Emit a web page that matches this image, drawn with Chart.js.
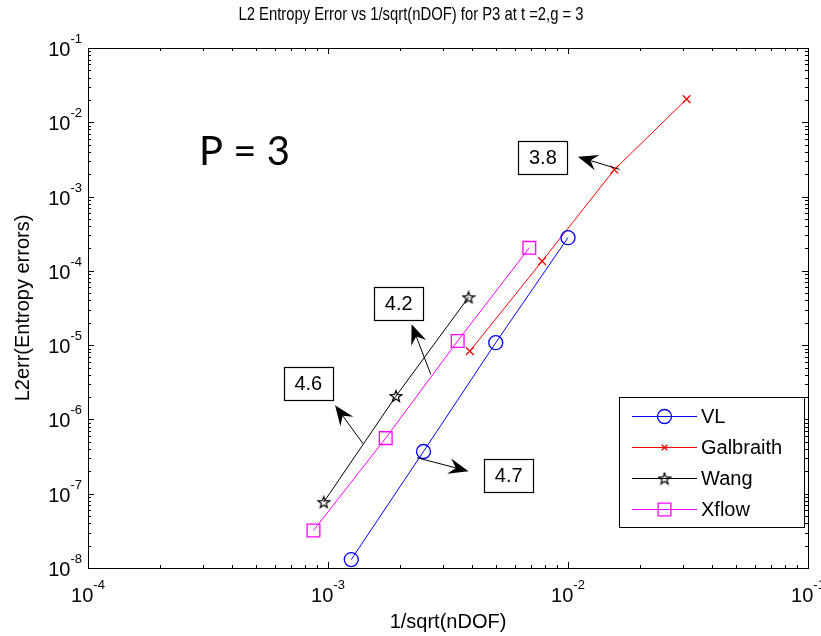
<!DOCTYPE html>
<html>
<head>
<meta charset="utf-8">
<script src="https://cdn.jsdelivr.net/npm/chart.js@4.4.0/dist/chart.umd.min.js"></script>
<style>
  body { margin: 0; background: #fff; }
  canvas { display: block; }
</style>
</head>
<body>
<canvas id="myChart" width="821" height="636"></canvas>
<script>
// values
var vlX = [1.25e-3, 2.5e-3, 5e-3, 1e-2];
var vlY = [1.3e-8, 3.7e-7, 1.08e-5, 2.8e-4];
var galX = [3.9e-3, 7.8e-3, 1.56e-2, 3.12e-2];
var galY = [8.3e-6, 1.35e-4, 2.3e-3, 2.05e-2];
var wangX = [9.6e-4, 1.92e-3, 3.85e-3];
var wangY = [7.7e-8, 2.06e-6, 4.4e-5];
var xflowX = [8.7e-4, 1.74e-3, 3.47e-3, 6.9e-3];
var xflowY = [3.2e-8, 5.6e-7, 1.14e-5, 2.04e-4];

var seriesNames = ['VL', 'Galbraith', 'Wang', 'Xflow'];
var xTickExp = [-4, -3, -2, -1];
var yTickExp = [-8, -7, -6, -5, -4, -3, -2, -1];

// slope labels: text, box centre, arrow tail, arrow head (data coords)
var slopeText = ['3.8', '4.2', '4.6', '4.7'];
var slopeBox = [[7.86e-3, 3.36e-3], [1.97e-3, 3.66e-5], [8.28e-4, 3.03e-6], [5.66e-3, 1.76e-7]];
var slopeTail = [[1.64e-2, 2.32e-3], [2.68e-3, 4.04e-6], [1.40e-3, 4.71e-7], [2.35e-3, 3.05e-7]];
var slopeHead = [[1.10e-2, 3.43e-3], [2.23e-3, 1.91e-5], [1.07e-3, 1.55e-6], [3.85e-3, 2.01e-7]];

var titleText = 'L2 Entropy Error vs 1/sqrt(nDOF) for P3 at t =2,g = 3';
var xTitle = '1/sqrt(nDOF)';
var yTitle = 'L2err(Entropy errors)';

var FONT = '"Liberation Sans", Arial, sans-serif';

function pts(xs, ys) {
    return xs.map(function(x, i) { return {x: x, y: ys[i]}; });
}

// pentagram marker like matlab 'p'
function makeStar(size, color) {
    var c = document.createElement('canvas');
    c.width = size; c.height = size;
    var g = c.getContext('2d');
    var cx = size / 2, cy = size / 2 + 0.5, R = size / 2 - 1, r = R * 0.42;
    g.beginPath();
    for (var i = 0; i < 10; i++) {
        var a = -Math.PI / 2 + i * Math.PI / 5;
        var rr = i % 2 === 0 ? R : r;
        var px = cx + rr * Math.cos(a), py = cy + rr * Math.sin(a);
        if (i === 0) g.moveTo(px, py); else g.lineTo(px, py);
    }
    g.closePath();
    g.strokeStyle = color;
    g.lineWidth = 1.2;
    g.stroke();
    return c;
}
var starImg = makeStar(14, '#000000');

function drawArrow(ctx, x1, y1, x2, y2) {
    var ang = Math.atan2(y2 - y1, x2 - x1);
    var L = 20, W = 8, notch = 13;
    ctx.strokeStyle = '#000';
    ctx.lineWidth = 1;
    ctx.beginPath();
    ctx.moveTo(x1, y1);
    ctx.lineTo(x2 - Math.cos(ang) * notch, y2 - Math.sin(ang) * notch);
    ctx.stroke();
    ctx.save();
    ctx.translate(x2, y2);
    ctx.rotate(ang);
    ctx.beginPath();
    ctx.moveTo(0, 0);
    ctx.lineTo(-L, -W);
    ctx.lineTo(-notch, 0);
    ctx.lineTo(-L, W);
    ctx.closePath();
    ctx.fillStyle = '#000';
    ctx.fill();
    ctx.restore();
}

var matlabLook = {
    id: 'matlabLook',
    afterDraw: function(chart) {
        var ctx = chart.ctx;
        var xs = chart.scales.x, ys = chart.scales.y;
        var a = chart.chartArea;
        ctx.save();

        // frame
        ctx.strokeStyle = '#000';
        ctx.lineWidth = 1;
        ctx.strokeRect(Math.round(a.left) + 0.5, Math.round(a.top) + 0.5,
                       Math.round(a.right - a.left), Math.round(a.bottom - a.top));

        // ticks, pointing inward, all four sides
        ctx.beginPath();
        for (var e = -4; e < -1 + 1e-9; e++) {
            for (var m = 1; m <= 9; m++) {
                var v = m * Math.pow(10, e);
                if (v > 0.1 * 1.0001) break;
                var px = Math.round(xs.getPixelForValue(v)) + 0.5;
                var len = m === 1 ? 6 : 3;
                ctx.moveTo(px, a.bottom); ctx.lineTo(px, a.bottom - len);
                ctx.moveTo(px, a.top); ctx.lineTo(px, a.top + len);
            }
        }
        for (var e2 = -8; e2 <= -1; e2++) {
            for (var m2 = 1; m2 <= 9; m2++) {
                var v2 = m2 * Math.pow(10, e2);
                if (v2 > 0.1 * 1.0001) break;
                var py = Math.round(ys.getPixelForValue(v2)) + 0.5;
                var len2 = m2 === 1 ? 6 : 3;
                ctx.moveTo(a.left, py); ctx.lineTo(a.left + len2, py);
                ctx.moveTo(a.right, py); ctx.lineTo(a.right - len2, py);
            }
        }
        ctx.stroke();

        // tick labels 10^n
        ctx.fillStyle = '#000';
        ctx.textBaseline = 'alphabetic';
        xTickExp.forEach(function(ex) {
            var px = xs.getPixelForValue(Math.pow(10, ex));
            ctx.font = '20px ' + FONT;
            var w1 = ctx.measureText('10').width;
            ctx.font = '13px ' + FONT;
            var w2 = ctx.measureText(String(ex)).width;
            var x0 = px - (w1 + w2) / 2;
            ctx.font = '20px ' + FONT;
            ctx.textAlign = 'left';
            ctx.fillText('10', x0, a.bottom + 34);
            ctx.font = '13px ' + FONT;
            ctx.fillText(String(ex), x0 + w1, a.bottom + 21);
        });
        yTickExp.forEach(function(ex) {
            var py = ys.getPixelForValue(Math.pow(10, ex));
            ctx.font = '13px ' + FONT;
            var w2 = ctx.measureText(String(ex)).width;
            var xr = a.left - 6;
            ctx.textAlign = 'right';
            ctx.fillText(String(ex), xr, py - 5);
            ctx.font = '20px ' + FONT;
            ctx.fillText('10', xr - w2, py + 8);
        });

        // titles
        ctx.textAlign = 'center';
        ctx.save();
        ctx.translate(411, 20);
        ctx.scale(0.78, 1);
        ctx.font = '19px ' + FONT;
        ctx.fillText(titleText, 0, 0);
        ctx.restore();
        ctx.font = '20px ' + FONT;
        ctx.fillText(xTitle, (a.left + a.right) / 2, 628);
        ctx.save();
        ctx.translate(29, (a.top + a.bottom) / 2);
        ctx.rotate(-Math.PI / 2);
        ctx.fillText(yTitle, 0, 0);
        ctx.restore();

        // P = 3
        ctx.textAlign = 'left';
        ctx.font = '40px Lato, "Open Sans", sans-serif';
        ctx.fillText('P = 3', 199, 165);

        // slope boxes and arrows
        for (var i = 0; i < slopeText.length; i++) {
            var tx = xs.getPixelForValue(slopeTail[i][0]), ty = ys.getPixelForValue(slopeTail[i][1]);
            var hx = xs.getPixelForValue(slopeHead[i][0]), hy = ys.getPixelForValue(slopeHead[i][1]);
            drawArrow(ctx, tx, ty, hx, hy);
            var bx = xs.getPixelForValue(slopeBox[i][0]), by = ys.getPixelForValue(slopeBox[i][1]);
            var bw = 49, bh = 33;
            var l = Math.round(bx - bw / 2) + 0.5, t = Math.round(by - bh / 2) + 0.5;
            ctx.fillStyle = '#fff';
            ctx.fillRect(l, t, bw, bh);
            ctx.strokeStyle = '#000';
            ctx.lineWidth = 1.2;
            ctx.strokeRect(l, t, bw, bh);
            ctx.fillStyle = '#000';
            ctx.font = '20px ' + FONT;
            ctx.textAlign = 'center';
            ctx.textBaseline = 'middle';
            ctx.fillText(slopeText[i], bx, by + 1);
            ctx.textBaseline = 'alphabetic';
        }

        // legend box
        var lg = {l: 619.5, t: 397.5, w: 185, h: 130};
        ctx.fillStyle = '#fff';
        ctx.fillRect(lg.l, lg.t, lg.w, lg.h);
        ctx.strokeStyle = '#000';
        ctx.lineWidth = 1;
        ctx.strokeRect(lg.l, lg.t, lg.w, lg.h);
        var rowY = [416, 447, 478, 509];
        chart.data.datasets.forEach(function(ds, k) {
            var y = rowY[k] + 0.5;
            ctx.strokeStyle = ds.borderColor;
            ctx.lineWidth = 1;
            ctx.beginPath();
            ctx.moveTo(632, y); ctx.lineTo(697, y);
            ctx.stroke();
            ctx.fillStyle = 'rgba(0,0,0,0)';
            ctx.strokeStyle = ds.borderColor;
            ctx.lineWidth = 1.3;
            var r = k === 1 ? 4 : ds.pointRadius;
            Chart.helpers.drawPoint(ctx, {
                pointStyle: ds.pointStyle, radius: r, borderWidth: 1.3, rotation: 0
            }, 664.5, y);
            ctx.fillStyle = '#000';
            ctx.font = '20px ' + FONT;
            ctx.textAlign = 'left';
            ctx.textBaseline = 'middle';
            ctx.fillText(ds.label, 701, y + 1);
        });
        ctx.restore();
    }
};

function series(label, xs, ys, color, style, radius) {
    return {
        label: label,
        data: pts(xs, ys),
        borderColor: color,
        backgroundColor: 'rgba(0,0,0,0)',
        borderWidth: 1,
        showLine: true,
        pointStyle: style,
        pointRadius: radius,
        pointBorderWidth: 1.3,
        pointBorderColor: color,
        pointBackgroundColor: 'rgba(0,0,0,0)'
    };
}

var chart = new Chart(document.getElementById('myChart'), {
    type: 'scatter',
    data: {
        datasets: [
            series(seriesNames[0], vlX, vlY, '#0000ff', 'circle', 7),
            series(seriesNames[1], galX, galY, '#ff0000', 'crossRot', 5.5),
            series(seriesNames[2], wangX, wangY, '#000000', starImg, 7),
            series(seriesNames[3], xflowX, xflowY, '#ff00ff', 'rect', 9)
        ]
    },
    options: {
        responsive: false,
        animation: false,
        devicePixelRatio: 1,
        layout: { padding: { left: 88, top: 48, right: 13, bottom: 68 } },
        plugins: { legend: { display: false }, title: { display: false }, tooltip: { enabled: false } },
        scales: {
            x: { type: 'logarithmic', min: 1e-4, max: 1e-1, display: false },
            y: { type: 'logarithmic', min: 1e-8, max: 1e-1, display: false }
        }
    },
    plugins: [matlabLook]
});
</script>
</body>
</html>
